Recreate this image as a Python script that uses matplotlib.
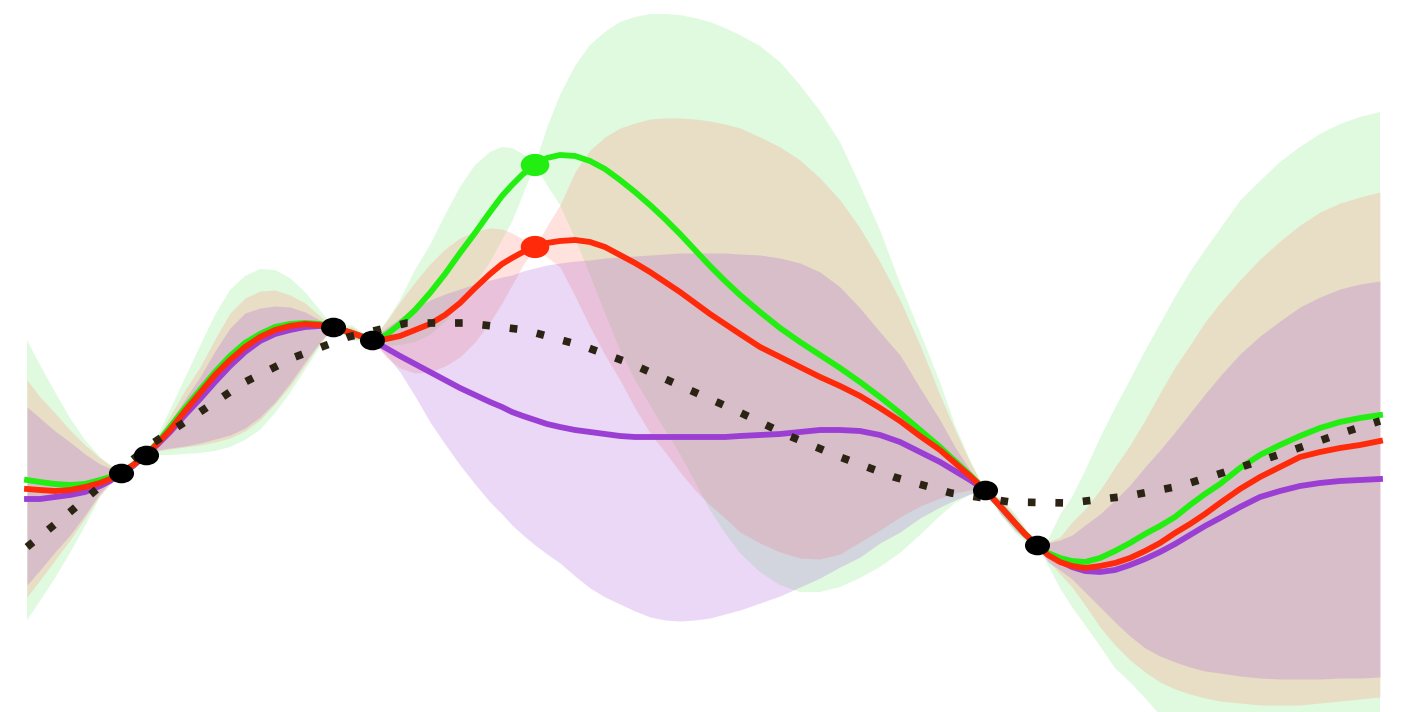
import numpy as np
import matplotlib
matplotlib.use("Agg")
import matplotlib.pyplot as plt
from matplotlib.path import Path
from matplotlib.markers import MarkerStyle
from matplotlib.transforms import Affine2D

# input grid shared by the three posteriors
x = [0.00, 0.13, 0.28, 0.43, 0.58, 0.73, 0.83, 0.94,
     1.06, 1.19,
     1.31, 1.43, 1.58, 1.73, 1.88, 2.03, 2.18, 2.33, 2.48, 2.63, 2.78, 2.93, 3.06,
     3.25, 3.45,
     3.59, 3.73, 3.88, 4.03, 4.18, 4.33, 4.48, 4.63, 4.75, 4.85, 4.96, 5.08,
     5.20, 5.33, 5.48, 5.63, 5.78, 5.93, 6.08, 6.23, 6.38, 6.53, 6.68, 6.83, 6.98, 7.13,
     7.33, 7.53, 7.73, 7.93, 8.13, 8.33, 8.53, 8.73, 8.93, 9.13, 9.28, 9.43, 9.58,
     9.73, 9.88, 9.98, 10.10,
     10.21, 10.33, 10.45, 10.58, 10.73, 10.88, 11.03, 11.18, 11.33, 11.48, 11.63, 11.78,
     11.93, 12.13, 12.33, 12.53, 12.73, 12.93, 13.13, 13.33, 13.53]

# green posterior (conditioned on the green fantasy point)
green_mean = [1.20, 1.18, 1.16, 1.15, 1.16, 1.20, 1.23, 1.27,
              1.35, 1.45,
              1.58, 1.73, 1.92, 2.10, 2.28, 2.44, 2.57, 2.66, 2.73, 2.76, 2.77, 2.76, 2.73,
              2.67, 2.60,
              2.65, 2.76, 2.90, 3.07, 3.26, 3.47, 3.67, 3.88, 4.04, 4.15, 4.26, 4.35,
              4.42, 4.45, 4.44, 4.39, 4.31, 4.20, 4.08, 3.95, 3.81, 3.66, 3.50, 3.34, 3.19, 3.05,
              2.88, 2.72, 2.58, 2.45, 2.32, 2.18, 2.03, 1.87, 1.70, 1.53, 1.39, 1.25, 1.10,
              0.94, 0.77, 0.66, 0.55,
              0.47, 0.42, 0.39, 0.38, 0.42, 0.49, 0.57, 0.66, 0.74, 0.83, 0.95, 1.06,
              1.16, 1.32, 1.45, 1.55, 1.64, 1.72, 1.78, 1.82, 1.85]
green_hi = [2.60, 2.35, 2.08, 1.82, 1.60, 1.43, 1.35, 1.27,
            1.39, 1.45,
            1.65, 1.90, 2.22, 2.54, 2.85, 3.10, 3.24, 3.31, 3.30, 3.22, 3.08, 2.90, 2.73,
            2.75, 2.60,
            2.78, 3.00, 3.30, 3.55, 3.85, 4.13, 4.35, 4.48, 4.53, 4.52, 4.46, 4.35,
            4.72, 5.05, 5.34, 5.55, 5.68, 5.78, 5.83, 5.86, 5.86, 5.85, 5.82, 5.78, 5.72, 5.65,
            5.54, 5.38, 5.15, 4.89, 4.58, 4.15, 3.70, 3.17, 2.68, 2.18, 1.75, 1.40, 1.10,
            1.02, 0.87, 0.73, 0.55,
            0.60, 0.85, 1.03, 1.29, 1.62, 1.92, 2.20, 2.49, 2.76, 3.03, 3.28, 3.50,
            3.71, 3.99, 4.19, 4.38, 4.53, 4.66, 4.76, 4.83, 4.88]
green_lo = [-0.20, -0.01, 0.22, 0.47, 0.74, 1.03, 1.15, 1.27,
            1.31, 1.45,
            1.45, 1.45, 1.46, 1.47, 1.49, 1.53, 1.60, 1.70, 1.87, 2.07, 2.30, 2.53, 2.73,
            2.59, 2.60,
            2.54, 2.55, 2.58, 2.65, 2.78, 2.95, 3.15, 3.38, 3.60, 3.78, 4.05, 4.35,
            4.15, 3.95, 3.62, 3.25, 2.87, 2.50, 2.20, 1.95, 1.70, 1.46, 1.18, 0.90, 0.67, 0.47,
            0.28, 0.15, 0.08, 0.08, 0.13, 0.22, 0.33, 0.47, 0.65, 0.84, 0.97, 1.05, 1.10,
            0.86, 0.67, 0.59, 0.55,
            0.35, 0.12, -0.07, -0.25, -0.46, -0.68, -0.82, -0.98, -1.15, -1.32, -1.42, -1.52,
            -1.60, -1.67, -1.72, -1.76, -1.78, -1.76, -1.72, -1.69, -1.65]

# red posterior (conditioned on the red fantasy point)
red_mean = [1.11, 1.10, 1.09, 1.10, 1.13, 1.17, 1.21, 1.27,
            1.35, 1.45,
            1.57, 1.70, 1.89, 2.07, 2.25, 2.40, 2.53, 2.63, 2.70, 2.74, 2.76, 2.75, 2.73,
            2.67, 2.60,
            2.61, 2.64, 2.70, 2.76, 2.85, 2.97, 3.12, 3.26, 3.36, 3.42, 3.48, 3.53,
            3.57, 3.59, 3.60, 3.58, 3.53, 3.45, 3.37, 3.28, 3.18, 3.08, 2.97, 2.86, 2.76, 2.66,
            2.53, 2.43, 2.33, 2.23, 2.14, 2.04, 1.92, 1.79, 1.64, 1.50, 1.37, 1.24, 1.10,
            0.94, 0.77, 0.66, 0.55,
            0.45, 0.38, 0.34, 0.32, 0.34, 0.37, 0.42, 0.49, 0.57, 0.67, 0.76, 0.86,
            0.97, 1.11, 1.23, 1.33, 1.43, 1.48, 1.52, 1.55, 1.59]
red_hi = [2.20, 2.03, 1.87, 1.70, 1.55, 1.42, 1.35, 1.27,
          1.38, 1.45,
          1.63, 1.84, 2.10, 2.33, 2.61, 2.87, 3.02, 3.09, 3.10, 3.05, 2.97, 2.84, 2.73,
          2.73, 2.60,
          2.78, 2.98, 3.18, 3.36, 3.51, 3.62, 3.69, 3.72, 3.71, 3.67, 3.61, 3.53,
          3.74, 3.95, 4.28, 4.50, 4.63, 4.72, 4.77, 4.81, 4.82, 4.82, 4.81, 4.79, 4.76, 4.72,
          4.63, 4.53, 4.40, 4.22, 4.00, 3.72, 3.38, 3.00, 2.55, 2.05, 1.70, 1.38, 1.10,
          1.01, 0.84, 0.71, 0.55,
          0.58, 0.63, 0.78, 0.91, 1.10, 1.33, 1.55, 1.80, 2.07, 2.33, 2.55, 2.78,
          2.97, 3.20, 3.41, 3.59, 3.75, 3.88, 3.97, 4.03, 4.08]
red_lo = [0.03, 0.20, 0.40, 0.60, 0.82, 1.05, 1.16, 1.27,
          1.31, 1.45,
          1.49, 1.51, 1.53, 1.55, 1.58, 1.62, 1.69, 1.80, 1.96, 2.14, 2.35, 2.57, 2.73,
          2.61, 2.60,
          2.43, 2.32, 2.27, 2.28, 2.34, 2.43, 2.58, 2.78, 2.97, 3.15, 3.35, 3.53,
          3.43, 3.33, 3.04, 2.73, 2.45, 2.20, 1.92, 1.67, 1.48, 1.28, 1.10, 0.95, 0.82, 0.68,
          0.57, 0.48, 0.42, 0.41, 0.46, 0.58, 0.70, 0.83, 0.94, 1.02, 1.07, 1.10, 1.10,
          0.87, 0.70, 0.61, 0.55,
          0.40, 0.26, 0.13, -0.05, -0.27, -0.45, -0.60, -0.72, -0.82, -0.89, -0.94, -0.98,
          -1.01, -1.03, -1.05, -1.05, -1.05, -1.03, -1.01, -0.99, -0.97]

# purple posterior (observations only)
purple_mean = [1.01, 1.01, 1.03, 1.05, 1.08, 1.14, 1.19, 1.27,
               1.34, 1.45,
               1.56, 1.68, 1.85, 2.01, 2.18, 2.34, 2.48, 2.59, 2.66, 2.70, 2.73, 2.74, 2.73,
               2.67, 2.60,
               2.52, 2.44, 2.36, 2.28, 2.20, 2.12, 2.05, 1.98, 1.93, 1.88, 1.84, 1.80,
               1.76, 1.73, 1.70, 1.68, 1.66, 1.64, 1.63, 1.63, 1.63, 1.63, 1.63, 1.63, 1.63, 1.64,
               1.65, 1.66, 1.68, 1.70, 1.70, 1.69, 1.65, 1.58, 1.48, 1.38, 1.29, 1.20, 1.10,
               0.94, 0.77, 0.66, 0.55,
               0.46, 0.39, 0.33, 0.29, 0.28, 0.30, 0.35, 0.41, 0.48, 0.56, 0.65, 0.74,
               0.82, 0.93, 1.03, 1.09, 1.14, 1.17, 1.19, 1.20, 1.21]
purple_hi = [1.93, 1.82, 1.69, 1.58, 1.46, 1.36, 1.32, 1.27,
             1.37, 1.45,
             1.60, 1.78, 2.01, 2.23, 2.49, 2.72, 2.87, 2.92, 2.94, 2.93, 2.88, 2.80, 2.73,
             2.71, 2.60,
             2.72, 2.82, 2.92, 3.00, 3.06, 3.11, 3.16, 3.20, 3.23, 3.25, 3.29, 3.32,
             3.35, 3.37, 3.39, 3.40, 3.42, 3.43, 3.44, 3.45, 3.46, 3.47, 3.47, 3.47, 3.47, 3.46,
             3.45, 3.42, 3.37, 3.28, 3.13, 2.92, 2.68, 2.45, 2.12, 1.80, 1.53, 1.30, 1.10,
             1.00, 0.82, 0.70, 0.55,
             0.57, 0.60, 0.65, 0.75, 0.86, 1.00, 1.15, 1.33, 1.50, 1.68, 1.87, 2.06,
             2.24, 2.46, 2.64, 2.79, 2.93, 3.03, 3.11, 3.16, 3.19]
purple_lo = [0.15, 0.30, 0.48, 0.65, 0.85, 1.07, 1.18, 1.27,
             1.31, 1.45,
             1.50, 1.52, 1.54, 1.57, 1.61, 1.65, 1.72, 1.83, 1.98, 2.17, 2.38, 2.58, 2.73,
             2.62, 2.60,
             2.45, 2.28, 2.04, 1.78, 1.56, 1.35, 1.16, 0.98, 0.86, 0.75, 0.65, 0.55,
             0.46, 0.37, 0.24, 0.12, 0.03, -0.04, -0.11, -0.17, -0.20, -0.21, -0.20, -0.18, -0.14, -0.10,
             -0.03, 0.04, 0.13, 0.22, 0.33, 0.43, 0.57, 0.68, 0.82, 0.93, 1.00, 1.06, 1.10,
             0.87, 0.70, 0.61, 0.55,
             0.38, 0.30, 0.21, 0.08, -0.07, -0.22, -0.36, -0.48, -0.56, -0.62, -0.67, -0.71,
             -0.73, -0.76, -0.78, -0.79, -0.79, -0.79, -0.78, -0.78, -0.77]

# true (hidden) function, dotted
true_x = [0.00, 0.43, 0.83, 1.26, 1.73, 2.18, 2.68, 3.21, 3.80, 4.40, 4.98, 5.56, 6.05, 6.56,
          7.10, 7.60, 8.13, 8.67, 9.24, 9.83, 10.42, 11.01, 11.53, 12.08, 12.63, 13.18, 13.53]
true_y = [0.53, 0.88, 1.22, 1.57, 1.88, 2.18, 2.43, 2.63, 2.77, 2.77, 2.70, 2.54, 2.36, 2.13,
          1.89, 1.65, 1.43, 1.23, 1.07, 0.98, 0.97, 1.04, 1.14, 1.31, 1.49, 1.68, 1.79]

# observations and the two fantasy points
obs_x = [0.94, 1.19, 3.06, 3.45, 9.58, 10.10]
obs_y = [1.27, 1.45, 2.73, 2.60, 1.10, 0.55]
fantasy_x = [5.08, 5.08]
fantasy_y = [4.35, 3.53]

# slightly flattened dot marker
ellipse = Path.unit_circle().transformed(Affine2D().scale(1.3, 1.0))
dot = MarkerStyle(ellipse)

fig = plt.figure(figsize=(14.04, 7.12), dpi=100)
ax = fig.add_axes([0, 0, 1, 1])

ax.fill_between(x, green_lo, green_hi, color="#00d700", alpha=0.12, linewidth=0)
ax.fill_between(x, red_lo, red_hi, color="#ff826d", alpha=0.23, linewidth=0)
ax.fill_between(x, purple_lo, purple_hi, color="#a350d7", alpha=0.22, linewidth=0)

ax.plot(x, purple_mean, color="#9b3fd4", lw=4.2, solid_joinstyle="round")
ax.plot(x, green_mean, color="#22ee11", lw=4.2, solid_joinstyle="round")
ax.plot(x, red_mean, color="#ff2a0a", lw=4.2, solid_joinstyle="round")

ax.plot(true_x, true_y, color="#2b2313", lw=5.5, linestyle=(0, (1, 2.6)),
        dash_capstyle="butt")

ax.scatter(obs_x, obs_y, s=290, marker=dot, color="black", zorder=5)
ax.scatter(fantasy_x, fantasy_y, s=380, marker=dot, color=["#22ee11", "#ff2a0a"], zorder=5)

ax.set_xlim(-0.27, 13.77)
ax.set_ylim(-1.12, 6.00)
ax.axis("off")

fig.savefig("out.png", dpi=100)
